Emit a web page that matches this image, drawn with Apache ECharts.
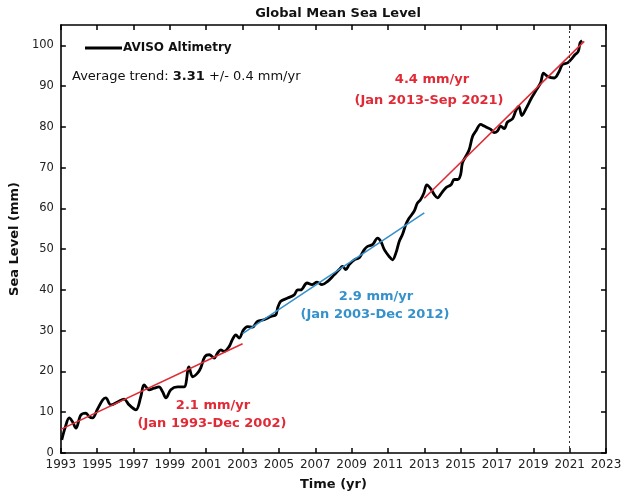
<!DOCTYPE html>
<html>
<head>
<meta charset="utf-8">
<script src="https://cdn.jsdelivr.net/npm/echarts@6/dist/echarts.min.js"></script>
<style>
html,body{margin:0;padding:0;background:#fff;}
#chart{width:628px;height:497px;}
</style>
</head>
<body>
<div id="chart"></div>
<script>
// ---- data ----
const years = [
  1993.05,1993.25,1993.46,1993.65,1993.83,1994.10,1994.38,1994.56,1994.74,1995.00,
  1995.30,1995.47,1995.75,1996.12,1996.48,1996.76,1997.13,1997.40,1997.58,1997.86,
  1998.13,1998.40,1998.60,1998.78,1999.05,1999.42,1999.78,2000.05,2000.25,2000.52,
  2000.70,2000.93,2001.17,2001.44,2001.62,2001.80,2001.98,2002.26,2002.44,2002.63,
  2002.81,2003.05,2003.27,2003.55,2003.82,2004.18,2004.56,2004.83,2004.93,2005.10,
  2005.48,2005.84,2006.03,2006.20,2006.55,2006.82,2007.10,2007.37,2007.68,2008.04,
  2008.32,2008.50,2008.68,2008.87,2009.15,2009.42,2009.70,2009.88,2010.15,2010.43,
  2010.61,2010.80,2011.07,2011.25,2011.44,2011.62,2011.80,2011.98,2012.16,2012.44,
  2012.62,2012.80,2012.98,2013.14,2013.36,2013.55,2013.73,2013.97,2014.20,2014.47,
  2014.65,2014.84,2015.00,2015.10,2015.29,2015.47,2015.66,2015.84,2016.10,2016.30,
  2016.48,2016.66,2016.85,2017.03,2017.20,2017.40,2017.58,2017.86,2018.04,2018.20,
  2018.37,2018.60,2018.90,2019.13,2019.40,2019.56,2019.78,2020.15,2020.42,2020.60,
  2020.88,2021.07,2021.29,2021.47,2021.58,2021.68
];
const seaLevel = [
  3.2,6.4,8.6,7.6,6.1,9.3,9.8,8.9,8.6,10.6,
  13.0,13.5,11.8,12.5,13.2,11.8,10.6,13.8,16.7,15.5,
  15.9,16.2,15.0,13.5,15.5,16.2,16.2,21.1,18.7,19.6,
  20.9,23.7,24.1,23.3,24.5,25.3,24.9,26.1,27.8,29.0,
  28.2,30.2,31.0,30.9,32.3,32.7,33.5,33.9,35.6,37.2,
  38.0,38.8,40.0,40.0,41.7,41.3,41.9,41.3,42.1,43.7,
  45.0,45.8,45.0,46.2,47.4,47.9,49.9,50.7,51.1,52.7,
  51.9,49.9,48.2,47.4,49.1,51.9,53.6,56.0,57.6,59.3,
  61.3,62.2,63.8,65.8,64.8,63.4,62.6,63.9,65.1,65.8,
  67.1,67.1,68.3,71.2,72.8,74.4,77.7,79.0,80.6,80.2,
  79.8,79.4,78.6,79.0,80.2,79.6,81.2,82.0,84.0,85.0,
  82.8,84.5,87.1,88.8,90.8,93.2,92.4,92.0,93.6,95.3,
  95.7,96.5,97.7,98.5,100.7,101.2
];
// trend lines: [start year, start mm], [end year, end mm]
const trend1 = [[1993, 5.8], [2003, 26.8]];
const trend2 = [[2003, 29.3], [2013, 58.9]];
const trend3 = [[2013, 62.5], [2021.8, 101.0]];
const markerYear = 2021;
const xTicks = [1993,1995,1997,1999,2001,2003,2005,2007,2009,2011,2013,2015,2017,2019,2021,2023];
const yTicks = [0,10,20,30,40,50,60,70,80,90,100];

const RED = '#e02a36';
const BLUE = '#3591cc';
const FONT = 'DejaVu Sans';

const chart = echarts.init(document.getElementById('chart'), null, {renderer:'canvas'});

const axisLineStyle = {show:true, onZero:false, lineStyle:{color:'#000', width:1.6}};
const tickStyle = {show:true, inside:true, length:5, lineStyle:{color:'#000', width:1.5}};

const option = {
  backgroundColor:'#fff',
  animation:false,
  title:{
    text:'Global Mean Sea Level', left:333, top:2, textAlign:'center',
    textStyle:{fontFamily:FONT, fontSize:13, fontWeight:'bold', color:'#111'}
  },
  legend:{
    data:['AVISO Altimetry'], left:80, top:37, icon:'rect',
    itemWidth:37, itemHeight:3,
    textStyle:{fontFamily:FONT, fontSize:12, fontWeight:'bold', color:'#111', padding:[0,0,0,-4]}
  },
  grid:{left:60, right:22, top:25, bottom:44},
  xAxis:[{
    type:'value', min:1993, max:2023, position:'bottom',
    axisLine:axisLineStyle,
    axisTick:Object.assign({customValues:xTicks}, tickStyle),
    axisLabel:{customValues:xTicks, formatter:v=>String(v), margin:6,
      fontFamily:FONT, fontSize:12, color:'#222'},
    splitLine:{show:false},
    name:'Time (yr)', nameLocation:'middle', nameGap:25,
    nameTextStyle:{fontFamily:FONT, fontSize:13, fontWeight:'bold', color:'#111'}
  },{
    type:'value', min:1993, max:2023, position:'top',
    axisLine:axisLineStyle,
    axisTick:Object.assign({customValues:xTicks}, tickStyle),
    axisLabel:{show:false}, splitLine:{show:false}
  }],
  yAxis:[{
    type:'value', min:0, max:105, position:'left',
    axisLine:axisLineStyle,
    axisTick:Object.assign({customValues:yTicks}, tickStyle),
    axisLabel:{customValues:yTicks, formatter:v=>String(v), margin:7,
      fontFamily:FONT, fontSize:11.5, color:'#222'},
    splitLine:{show:false},
    name:'Sea Level (mm)', nameLocation:'middle', nameGap:33,
    nameTextStyle:{fontFamily:FONT, fontSize:13, fontWeight:'bold', color:'#111'}
  },{
    type:'value', min:0, max:105, position:'right',
    axisLine:axisLineStyle,
    axisTick:Object.assign({customValues:yTicks}, tickStyle),
    axisLabel:{show:false}, splitLine:{show:false}
  }],
  series:[
    {
      name:'AVISO Altimetry', type:'line', xAxisIndex:0, yAxisIndex:0,
      data:years.map((y,i)=>[y, seaLevel[i]]),
      showSymbol:false, smooth:0.35,
      itemStyle:{color:'#000'},
      lineStyle:{color:'#000', width:2.8},
      markLine:{
        silent:true, symbol:'none', label:{show:false},
        lineStyle:{color:'#333', type:[2,3], width:1},
        data:[{xAxis:markerYear}]
      }
    },
    {name:'t1', type:'line', data:trend1, showSymbol:false, lineStyle:{color:RED, width:1.6}, itemStyle:{color:RED}},
    {name:'t2', type:'line', data:trend2, showSymbol:false, lineStyle:{color:BLUE, width:1.6}, itemStyle:{color:BLUE}},
    {name:'t3', type:'line', data:trend3, showSymbol:false, lineStyle:{color:RED, width:1.6}, itemStyle:{color:RED}}
  ],
  graphic:[
    {type:'text', x:72, y:77, style:{text:'Average trend: {b|3.31} +/- 0.4 mm/yr', fill:'#111',
      font:'13px "DejaVu Sans"', verticalAlign:'middle',
      rich:{b:{fontWeight:'bold', fontSize:13, fontFamily:FONT, fill:'#111'}}}},
    {type:'text', x:432, y:80, style:{text:'4.4 mm/yr', fill:RED, font:'bold 13px "DejaVu Sans"', align:'center', verticalAlign:'middle'}},
    {type:'text', x:429, y:101, style:{text:'(Jan 2013-Sep 2021)', fill:RED, font:'bold 13px "DejaVu Sans"', align:'center', verticalAlign:'middle'}},
    {type:'text', x:376, y:297, style:{text:'2.9 mm/yr', fill:BLUE, font:'bold 13px "DejaVu Sans"', align:'center', verticalAlign:'middle'}},
    {type:'text', x:375, y:315, style:{text:'(Jan 2003-Dec 2012)', fill:BLUE, font:'bold 13px "DejaVu Sans"', align:'center', verticalAlign:'middle'}},
    {type:'text', x:213, y:406, style:{text:'2.1 mm/yr', fill:RED, font:'bold 13px "DejaVu Sans"', align:'center', verticalAlign:'middle'}},
    {type:'text', x:212, y:424, style:{text:'(Jan 1993-Dec 2002)', fill:RED, font:'bold 13px "DejaVu Sans"', align:'center', verticalAlign:'middle'}}
  ]
};
chart.setOption(option);
</script>
</body>
</html>
